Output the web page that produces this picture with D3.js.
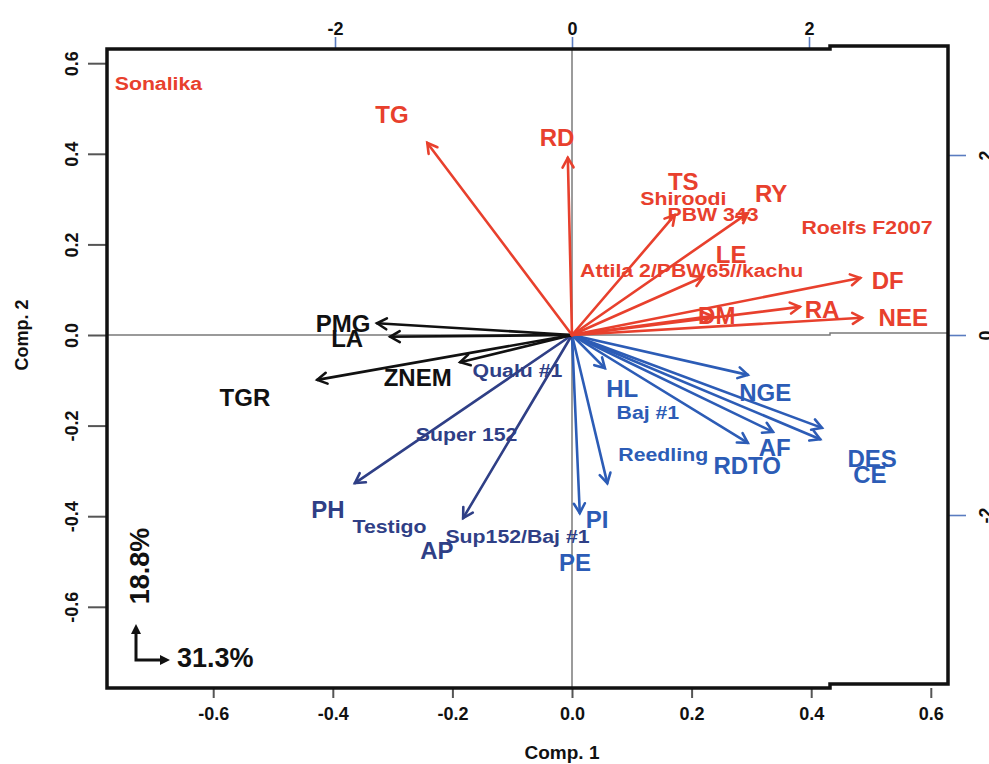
<!DOCTYPE html>
<html>
<head>
<meta charset="utf-8">
<script src="https://cdn.jsdelivr.net/npm/d3@7"></script>
<style>
  html, body { margin: 0; padding: 0; background: #fff; }
  svg { display: block; }
  text { font-family: "Liberation Sans", Arial, sans-serif; font-weight: bold; }
</style>
</head>
<body>
<svg id="chart" width="989" height="764"></svg>
<script>
// ---------------- DATA ----------------
// Variable loadings (Comp.1, Comp.2) on bottom/left axes, with label anchor points
const redNames   = ["TG", "RD", "TS", "RY", "LE", "DF", "RA", "NEE", "DM"];
const redX       = [-0.242, -0.007, 0.172, 0.294, 0.219, 0.482, 0.381, 0.485, 0.234];
const redY       = [0.424, 0.391, 0.265, 0.269, 0.128, 0.126, 0.062, 0.038, 0.042];
const redLabX    = [-0.301, -0.025, 0.186, 0.333, 0.266, 0.528, 0.418, 0.554, 0.242];
const redLabY    = [0.486, 0.437, 0.338, 0.313, 0.177, 0.121, 0.057, 0.038, 0.042];

const blackNames = ["PMG", "LA", "ZNEM", "TGR"];
const blackX     = [-0.326, -0.304, -0.187, -0.426];
const blackY     = [0.026, -0.004, -0.060, -0.099];
const blackLabX  = [-0.383, -0.376, -0.258, -0.547];
const blackLabY  = [0.026, -0.007, -0.093, -0.139];

const navyNames  = ["PH", "AP"];
const navyX      = [-0.363, -0.182];
const navyY      = [-0.327, -0.404];
const navyLabX   = [-0.408, -0.226];
const navyLabY   = [-0.386, -0.475];

const blueNames  = ["PE", "PI", "HL", "NGE", "DES", "CE", "AF", "RDTO"];
const blueX      = [0.013, 0.059, 0.055, 0.294, 0.418, 0.415, 0.336, 0.294];
const blueY      = [-0.393, -0.327, -0.073, -0.088, -0.205, -0.230, -0.214, -0.238];
const blueLabX   = [0.005, 0.042, 0.084, 0.323, 0.502, 0.498, 0.339, 0.293];
const blueLabY   = [-0.503, -0.408, -0.117, -0.128, -0.272, -0.307, -0.249, -0.289];

// Genotype scores on top/right axes
const genoNames  = ["Sonalika", "Shiroodi", "PBW 343", "Roelfs F2007", "Attila 2/PBW65//kachu",
                    "Qualu #1", "Super 152", "Testigo", "Sup152/Baj #1", "Baj #1", "Reedling"];
const genoX      = [-3.49, 0.94, 1.19, 2.49, 1.01, -0.46, -0.89, -1.54, -0.46, 0.64, 0.77];
const genoY      = [2.80, 1.52, 1.34, 1.19, 0.72, -0.39, -1.10, -2.13, -2.24, -0.86, -1.33];
const genoGroup  = ["red", "red", "red", "red", "red", "navy", "navy", "navy", "navy", "blue", "blue"];

// Axis ticks and titles
const bottomTicks = [-0.6, -0.4, -0.2, 0.0, 0.2, 0.4, 0.6];
const leftTicks   = [-0.6, -0.4, -0.2, 0.0, 0.2, 0.4, 0.6];
const topTicks    = [-2, 0, 2];
const rightTicks  = [-2, 0, 2];
const xTitle = "Comp. 1";
const yTitle = "Comp. 2";
const pc1Var = "31.3%";
const pc2Var = "18.8%";

// ---------------- STYLE ----------------
const colors = { red: "#e8402d", black: "#111111", navy: "#2f3f86", blue: "#2c5cb6" };

const svg = d3.select("#chart");
const L = 107, R = 948, T = 49, B = 688;

const x = d3.scaleLinear().domain([-0.6, 0.6]).range([213.2, 930.8]);
const y = d3.scaleLinear().domain([-0.6, 0.6]).range([606.8, 63.2]);
const xTop = d3.scaleLinear().domain([-2, 2]).range([335, 809]);
const yRight = d3.scaleLinear().domain([-2, 2]).range([515, 155]);

// zero lines
svg.append("path")
  .attr("d", `M${L},${y(0)} H830 V${y(0) - 2} H${R}`)
  .attr("fill", "none").attr("stroke", "#7a7a7a").attr("stroke-width", 1.5);
svg.append("line")
  .attr("x1", x(0)).attr("x2", x(0)).attr("y1", T).attr("y2", B)
  .attr("stroke", "#7a7a7a").attr("stroke-width", 1.5);

// axes
const fmt = d => d.toFixed(1);
const fmtInt = d => String(d);
const gB = svg.append("g").attr("transform", `translate(0,${B})`)
  .call(d3.axisBottom(x).tickValues(bottomTicks).tickFormat(fmt).tickSize(10).tickPadding(9));
const gL = svg.append("g").attr("transform", `translate(${L},0)`)
  .call(d3.axisLeft(y).tickValues(leftTicks).tickFormat(fmt).tickSize(19));
const gT = svg.append("g").attr("transform", `translate(0,${T})`)
  .call(d3.axisTop(xTop).tickValues(topTicks).tickFormat(fmtInt).tickSize(12).tickPadding(2));
const gR = svg.append("g").attr("transform", `translate(${R},0)`)
  .call(d3.axisRight(yRight).tickValues(rightTicks).tickFormat(fmtInt).tickSize(18));

[gB, gL, gT, gR].forEach(g => g.select(".domain").remove());
gB.selectAll(".tick line").attr("stroke", "#555").attr("stroke-width", 2);
gL.selectAll(".tick line").attr("stroke", "#555").attr("stroke-width", 2);
gT.selectAll(".tick line").attr("stroke", "#5a7cc0").attr("stroke-width", 1.6);
gR.selectAll(".tick line").attr("stroke", "#5a7cc0").attr("stroke-width", 1.6);
[gB, gL, gT, gR].forEach(g => g.selectAll(".tick text")
  .attr("fill", "#111").style("font-size", "18px")
  .style("font-family", "'Liberation Sans', Arial, sans-serif").style("font-weight", "bold"));
gL.selectAll(".tick text")
  .attr("x", null).attr("dy", null)
  .attr("text-anchor", "middle")
  .attr("transform", "translate(-29,0) rotate(-90)");
gR.selectAll(".tick text")
  .attr("x", null).attr("dy", null)
  .attr("text-anchor", "middle")
  .attr("transform", "translate(44,0) rotate(-90)");

// box with its offset right section
svg.append("path")
  .attr("d", `M${L},${T} H830 V${T - 3} H${R} V${B - 4} H830 V${B} H${L} Z`)
  .attr("fill", "none").attr("stroke", "#111").attr("stroke-width", 3.5)
  .attr("stroke-linejoin", "miter");

// arrows
function drawArrows(names, xs, ys, color) {
  const g = svg.append("g").attr("stroke", color).attr("stroke-width", 2.6)
    .attr("fill", "none").attr("stroke-linecap", "round");
  names.forEach((n, i) => {
    const x0 = x(0), y0 = y(0), x1 = x(xs[i]), y1 = y(ys[i]);
    const a = Math.atan2(y1 - y0, x1 - x0);
    const len = 11, spread = Math.PI / 6;
    g.append("line").attr("x1", x0).attr("y1", y0).attr("x2", x1).attr("y2", y1);
    g.append("path").attr("d",
      `M${x1 - len * Math.cos(a - spread)},${y1 - len * Math.sin(a - spread)} L${x1},${y1} L${x1 - len * Math.cos(a + spread)},${y1 - len * Math.sin(a + spread)}`);
  });
}
function drawLabels(names, lx, ly, color) {
  svg.append("g").selectAll("text").data(names).join("text")
    .attr("x", (d, i) => x(lx[i])).attr("y", (d, i) => y(ly[i]))
    .attr("text-anchor", "middle").attr("dominant-baseline", "central")
    .attr("fill", color).style("font-size", "24px")
    .text(d => d);
}

drawArrows(blueNames, blueX, blueY, colors.blue);
drawArrows(navyNames, navyX, navyY, colors.navy);
drawArrows(blackNames, blackX, blackY, colors.black);
drawArrows(redNames, redX, redY, colors.red);

// genotype labels
svg.append("g").selectAll("text").data(genoNames).join("text")
  .attr("transform", (d, i) => `translate(${xTop(genoX[i])},${yRight(genoY[i])}) scale(1.12,1)`)
  .attr("text-anchor", "middle").attr("dominant-baseline", "central")
  .attr("fill", (d, i) => colors[genoGroup[i]])
  .style("font-size", "19px")
  .text(d => d);

drawLabels(blueNames, blueLabX, blueLabY, colors.blue);
drawLabels(navyNames, navyLabX, navyLabY, colors.navy);
drawLabels(blackNames, blackLabX, blackLabY, colors.black);
drawLabels(redNames, redLabX, redLabY, colors.red);

// axis titles
svg.append("text").attr("x", 562).attr("y", 752)
  .attr("text-anchor", "middle").attr("dominant-baseline", "central")
  .attr("fill", "#111").style("font-size", "19px").text(xTitle);
svg.append("text").attr("transform", "translate(22,335) rotate(-90)")
  .attr("text-anchor", "middle").attr("dominant-baseline", "central")
  .attr("fill", "#111").style("font-size", "18px").text(yTitle);

// variance explained indicator
const ind = svg.append("g").attr("stroke", "#111").attr("stroke-width", 3).attr("fill", "none");
ind.append("path").attr("d", "M136,630 V660 H164");
svg.append("path").attr("d", "M136,624 L131,634 L141,634 Z").attr("fill", "#111");
svg.append("path").attr("d", "M170,660 L160,655 L160,665 Z").attr("fill", "#111");
svg.append("text").attr("x", 177).attr("y", 658)
  .attr("dominant-baseline", "central").attr("fill", "#111")
  .style("font-size", "27px").text(pc1Var);
svg.append("text").attr("transform", "translate(140,566) rotate(-90)")
  .attr("text-anchor", "middle").attr("dominant-baseline", "central")
  .attr("fill", "#111").style("font-size", "27px").text(pc2Var);
</script>
</body>
</html>
